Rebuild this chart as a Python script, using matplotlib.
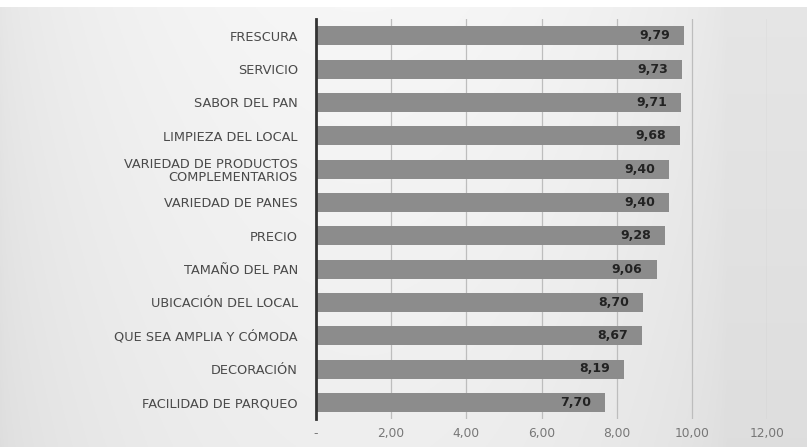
import matplotlib.pyplot as plt
import numpy as np
from matplotlib.ticker import FuncFormatter

# data (top to bottom as in the picture)
labels = ['FRESCURA', 'SERVICIO', 'SABOR DEL PAN', 'LIMPIEZA DEL LOCAL',
          'VARIEDAD DE PRODUCTOS\nCOMPLEMENTARIOS', 'VARIEDAD DE PANES',
          'PRECIO', 'TAMAÑO DEL PAN', 'UBICACIÓN DEL LOCAL',
          'QUE SEA AMPLIA Y CÓMODA', 'DECORACIÓN', 'FACILIDAD DE PARQUEO']
values = [9.79, 9.73, 9.71, 9.68, 9.40, 9.40, 9.28, 9.06, 8.70, 8.67, 8.19, 7.70]
xticks = [0, 2, 4, 6, 8, 10, 12]

plt.rcParams['font.family'] = ['DejaVu Sans']

fig = plt.figure(figsize=(8.07, 4.47), dpi=100)
fig.patch.set_facecolor('white')

# light gray gradient background panel
bg = fig.add_axes([0.0, 0.0, 1.0, 1 - 7 / 447])
gx = np.linspace(0, 1, 400)
hx = 0.90 + 0.065 * np.sin(np.clip(gx / 0.9, 0, 1) * np.pi) ** 0.6
gy = np.linspace(0, 1, 200)[:, None]
shade = hx[None, :] - 0.03 * (1 - gy)
img = np.dstack([shade, shade, shade]).clip(0, 1)
bg.imshow(img, aspect='auto', extent=[0, 1, 0, 1], origin='lower')
bg.axis('off')

ax = fig.add_axes([316 / 807, 1 - 419 / 447, (767 - 316) / 807, (419 - 19) / 447])
ax.patch.set_alpha(0)

y = np.arange(len(labels))[::-1]
ax.barh(y, values, height=0.57, color='#8c8c8c', zorder=3)
for yi, v in zip(y, values):
    ax.text(v - 0.37, yi, ('%.2f' % v).replace('.', ','), ha='right', va='center',
            fontsize=9, fontweight='bold', color='#222222', zorder=4)

ax.set_xlim(0, 12)
ax.set_ylim(-0.5, len(labels) - 0.5)
ax.set_xticks(xticks)
ax.xaxis.set_major_formatter(FuncFormatter(
    lambda v, p: '-' if v == 0 else ('%.2f' % v).replace('.', ',')))
ax.set_yticks(y)
ax.set_yticklabels(labels, fontsize=9.3, color='#4a4a4a', linespacing=1.0)
ax.tick_params(axis='x', length=0, labelsize=8.8, labelcolor='#777777', pad=6)
ax.tick_params(axis='y', length=0, pad=13)
ax.grid(axis='x', color='#bdbdbd', linewidth=0.9, zorder=0)
for s in ['top', 'right', 'bottom']:
    ax.spines[s].set_visible(False)
ax.spines['left'].set_color('#333333')
ax.spines['left'].set_linewidth(2)
ax.spines['left'].set_zorder(5)

fig.savefig('out.png', dpi=100)
